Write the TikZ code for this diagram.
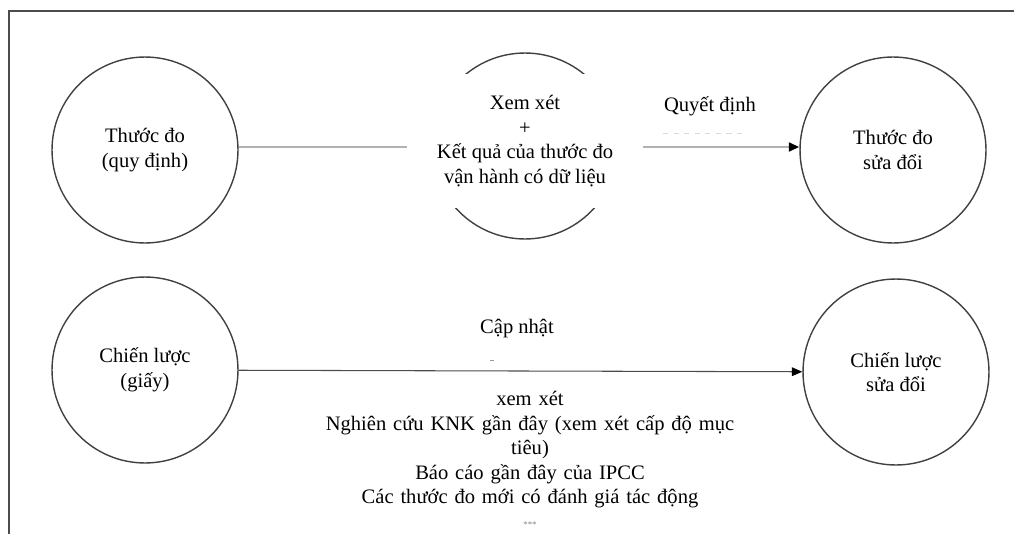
\documentclass[tikz,border=0pt]{standalone}
\usepackage{fontspec}
\setmainfont{Liberation Serif}
\usetikzlibrary{arrows.meta, positioning}

\tikzset{
  vong/.style={draw=black!75, line width=0.8pt, circle, minimum size=3.72cm, inner sep=0pt, align=center},
  chu/.style={align=center, inner sep=1pt},
  noi/.style={draw=black!70, line width=0.6pt},
}

\begin{document}
\begin{tikzpicture}[x=0.02cm, y=-0.02cm, font=\fontsize{11.7pt}{14pt}\selectfont]
    \useasboundingbox (0,0) rectangle (1014,534);
    \draw[black!70, line width=1.2pt] (9,540) -- (9,11) -- (1020,11);

    % hang tren
    \node[vong] (tdo) at (145,150) {Thước đo\\(quy định)};
    \node[vong] (xet) at (525,146) {};
    \node[fill=white, minimum width=4.72cm, minimum height=2.7cm, chu] (ketqua) at (525,141) {Xem xét\\+\\Kết quả của thước đo\\vận hành có dữ liệu};
    \node[vong] (tdosua) at (893,150) {Thước đo\\sửa đổi};
    \draw[black!30, line width=1.6pt] (tdo.east |- 0,147) -- (ketqua.west |- 0,147);
    \draw[black!30, line width=1.6pt, -{Triangle[length=6pt, width=5pt, color=black]}] (ketqua.east |- 0,147) -- (tdosua.west |- 0,147);
    \node[chu] (quyetdinh) at (710,106) {Quyết định};
    \draw[black!15, dashed, line width=0.4pt] (663,133) -- (743,133);

    % hang duoi
    \node[vong] (cluoc) at (145,370) {Chiến lược\\(giấy)};
    \node[vong] (cluocsua) at (896,372) {Chiến lược\\sửa đổi};
    \draw[noi, -{Triangle[length=6pt, width=5pt, color=black]}] (cluoc) -- (cluocsua);
    \node[chu] (capnhat) at (517,329) {Cập nhật};
    \draw[black!40, line width=0.4pt] (490,360) -- (494,360);
    \node[chu, text width=8.6cm, anchor=north] (xemxet) at (530,389) {xem xét\\Nghiên cứu KNK gần đây (xem xét cấp độ mục\\tiêu)\\Báo cáo gần đây của IPCC\\Các thước đo mới có đánh giá tác động};
    \node[font=\tiny, text=black!50] (sao) at (530,525) {***};
\end{tikzpicture}
\end{document}
